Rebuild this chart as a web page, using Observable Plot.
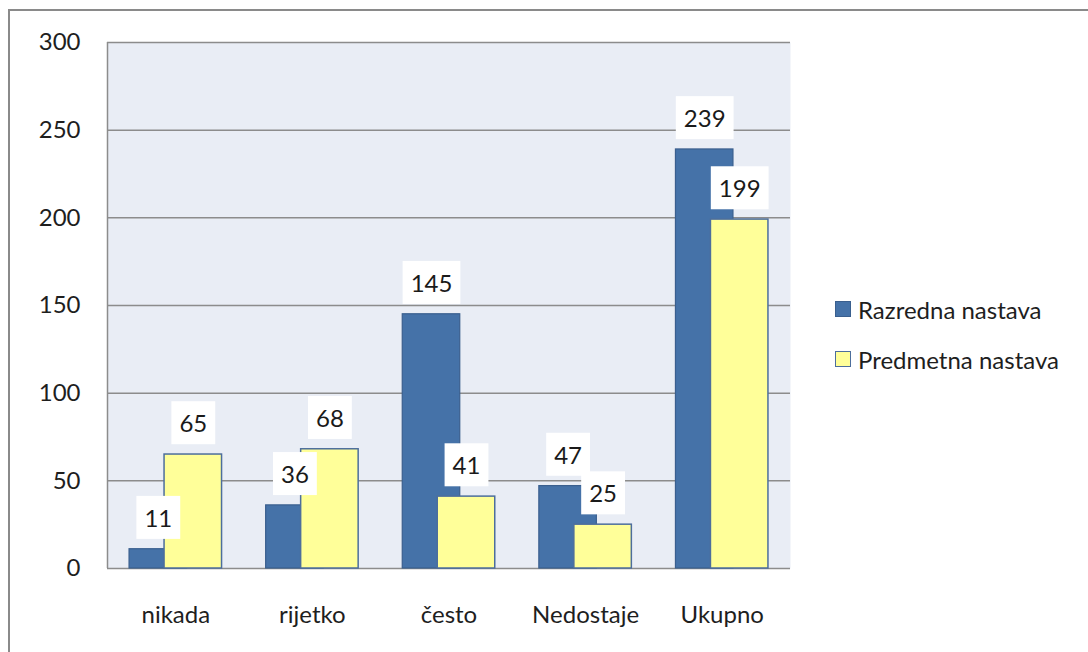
<!DOCTYPE html>
<html>
<head>
<meta charset="utf-8">
<script src="https://cdn.jsdelivr.net/npm/d3@7"></script>
<script src="https://cdn.jsdelivr.net/npm/@observablehq/plot@0.6"></script>
<style>
  html, body { margin: 0; padding: 0; background: #fff; width: 1088px; height: 652px; overflow: hidden; }
  #frame { position: absolute; left: 8px; top: 9px; width: 2000px; height: 2000px;
           border-left: 2px solid #8a8a8a; border-top: 2px solid #8a8a8a; }
  #chart { position: absolute; left: 0; top: 0; }
  .legend { position: absolute; left: 835px; font-family: Lato, sans-serif; font-size: 24px; color: #1e1e1e; }
  .legend .item { display: flex; align-items: center; height: 30px; margin-bottom: 20px; }
  .legend .sw { width: 14px; height: 14px; margin-right: 7px; box-sizing: content-box; }
</style>
</head>
<body>
<div id="frame"></div>
<div id="chart"></div>
<div class="legend" id="legend" style="top:294px"></div>
<script>
const categories = ["nikada", "rijetko", "često", "Nedostaje", "Ukupno"];
const razredna = [11, 36, 145, 47, 239];
const predmetna = [65, 68, 41, 25, 199];
const yTicks = [0, 50, 100, 150, 200, 250, 300];
const seriesNames = ["Razredna nastava", "Predmetna nastava"];
const colors = ["#4572A8", "#FFFF99"];
const strokes = ["#3A5F8E", "#4D6E9C"];

const W = 1088, H = 652, ML = 107, MR = 298, MT = 42, MB = 84;
const bw = (W - ML - MR) / categories.length;
const off = 17.5, barW = 57.5, inset = (bw - barW) / 2;

const blue = categories.map((c, i) => ({cat: c, v: razredna[i]}));
const yellow = categories.map((c, i) => ({cat: c, v: predmetna[i]}));

const svg = Plot.plot({
  width: W, height: H,
  marginLeft: ML, marginRight: MR, marginTop: MT, marginBottom: MB,
  x: {domain: categories, padding: 0, round: false, label: null},
  y: {domain: [0, 300], label: null},
  style: {fontFamily: "Lato, sans-serif", fontSize: "24px", color: "#1e1e1e", background: "transparent", overflow: "visible"},
  marks: [
    Plot.frame({fill: "#E9EDF5", stroke: "none"}),
    Plot.ruleY(yTicks, {stroke: "#8c8c8c", strokeWidth: 1.5, strokeOpacity: 1}),
    Plot.ruleX([categories[0]], {dx: -bw / 2, stroke: "#8c8c8c", strokeWidth: 1.5, strokeOpacity: 1}),
    Plot.axisY({ticks: yTicks, tickSize: 0, tickPadding: 27, label: null, fontSize: 24}),
    Plot.axisX({tickSize: 0, tickPadding: 37, label: null, fontSize: 24}),
    Plot.barY(blue, {x: "cat", y: "v", fill: colors[0], stroke: strokes[0], strokeWidth: 1.2,
      insetLeft: inset, insetRight: inset, dx: -off}),
    Plot.barY(yellow, {x: "cat", y: "v", fill: colors[1], stroke: strokes[1], strokeWidth: 1.5,
      insetLeft: inset, insetRight: inset, dx: off}),
    Plot.text(blue, {x: "cat", y: "v", text: d => String(d.v), dx: -off, dy: -30, fontSize: 24, fill: "#1a1a1a"}),
    Plot.text(yellow, {x: "cat", y: "v", text: d => String(d.v), dx: off, dy: -30, fontSize: 24, fill: "#1a1a1a"})
  ]
});
document.getElementById("chart").appendChild(svg);

// white boxes behind value labels
const labelGroups = Array.from(svg.querySelectorAll('g[aria-label="text"]'));
labelGroups.forEach(g => {
  g.querySelectorAll("text").forEach(t => {
    const b = t.getBBox();
    const cy = b.y + b.height / 2;
    const r = document.createElementNS("http://www.w3.org/2000/svg", "rect");
    r.setAttribute("x", b.x - 8);
    r.setAttribute("width", b.width + 16);
    r.setAttribute("y", cy - 21.5);
    r.setAttribute("height", 43);
    r.setAttribute("fill", "#ffffff");
    if (t.getAttribute("transform")) r.setAttribute("transform", t.getAttribute("transform"));
    g.insertBefore(r, t);
  });
});

// legend
const leg = document.getElementById("legend");
seriesNames.forEach((n, i) => {
  const item = document.createElement("div");
  item.className = "item";
  const sw = document.createElement("div");
  sw.className = "sw";
  sw.style.background = colors[i];
  sw.style.border = "1px solid " + strokes[i];
  const tx = document.createElement("span");
  tx.textContent = n;
  item.appendChild(sw); item.appendChild(tx);
  leg.appendChild(item);
});
</script>
</body>
</html>
